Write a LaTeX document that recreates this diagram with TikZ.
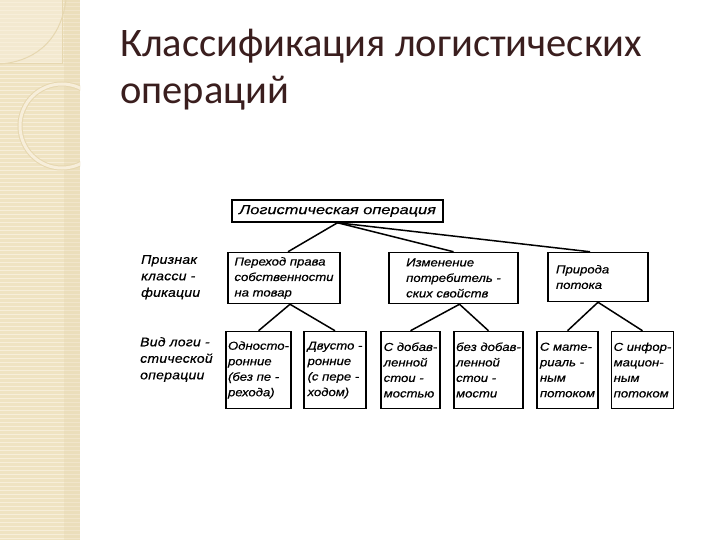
\documentclass[tikz,border=0pt]{standalone}
\usepackage{fontspec}
\setmainfont{Liberation Sans}
\newfontfamily\titlefont{Carlito}
\newfontfamily\hand[FakeStretch=1.14,FakeBold=0.5]{Liberation Sans}
\newfontfamily\handwide[FakeStretch=1.26,FakeBold=0.5]{Liberation Sans}
\newfontfamily\handside[FakeStretch=1.12,LetterSpace=2,FakeBold=0.5]{Liberation Sans}
\definecolor{stripcol}{HTML}{EFE3C2}
\definecolor{stripline}{HTML}{F7EEDA}
\definecolor{stripdark}{HTML}{E6D7B0}
\definecolor{titlecol}{HTML}{3A1E1E}
\tikzset{
  box/.style={draw, line width=1.5pt, inner sep=2pt, align=left, anchor=center,
    font=\hand\itshape\fontsize{11.5}{15.5}\selectfont},
  lab/.style={inner sep=0pt, align=left, anchor=north west,
    font=\handside\itshape\fontsize{12.5}{16.5}\selectfont},
  conn/.style={line width=1.5pt},
  titletext/.style={anchor=base west, inner sep=0pt, text=titlecol,
    font=\titlefont\fontsize{40.5}{47}\selectfont}
}
\begin{document}
\begin{tikzpicture}[x=1pt,y=-1pt]
\useasboundingbox (0,0) rectangle (720,540);
\fill[white] (0,0) rectangle (720,540);
% decorative strip
\fill[stripcol] (0,0) rectangle (80,540);
\foreach \yy in {2,6,...,540} \draw[stripline, line width=0.8pt] (0,\yy) -- (80,\yy);
\fill[stripdark, opacity=0.35] (64,0) rectangle (80,540);
\begin{scope}
\clip (0,0) rectangle (80,540);
\fill[stripline, opacity=0.6] (0,0) rectangle (62,64);
\draw[stripdark, line width=1pt] (0,64) .. controls (30,62) and (60,45) .. (66,0);
\draw[stripdark, line width=1pt] (0,64) -- (62,64) -- (62,0);
\draw[stripdark, line width=5pt] (62,126) circle (42);
\draw[stripline, line width=3pt] (62,126) circle (42);
\end{scope}
% title
\node[titletext] (t1) at (120,57) {Классификация логистических};
\node[titletext] (t2) at (120,104) {операций};
% level 1
\node[box, minimum width=211pt, minimum height=22pt, font=\handwide\itshape\fontsize{13}{15.5}\selectfont] (top) at (337.5,211) {Логистическая операция};
% level 2
\node[box, minimum width=112pt, minimum height=51pt] (a) at (284,278) {Переход права\\собственности\\на товар};
\node[box, minimum width=129pt, minimum height=51pt] (b) at (453.5,278) {Изменение\\потребитель -\\ских свойств};
\node[box, minimum width=100pt, minimum height=49pt, text width=84pt, inner xsep=6pt] (c) at (598,277) {Природа\\потока};
% level 3
\node[box, minimum width=63pt, minimum height=77pt] (o1) at (258.5,370) {Односто-\\ронние\\(без пе -\\рехода)};
\node[box, minimum width=62pt, minimum height=77pt] (o2) at (335,370) {Двусто -\\ронние\\(с пере -\\ходом)};
\node[box, minimum width=59pt, minimum height=77pt] (o3) at (410.5,370) {С добав-\\ленной\\стои -\\мостью};
\node[box, minimum width=61pt, minimum height=77pt] (o4) at (488.5,370) {без добав-\\ленной\\стои -\\мости};
\node[box, minimum width=61pt, minimum height=77pt] (o5) at (567.5,370) {С мате-\\риаль -\\ным\\потоком};
\node[box, minimum width=59pt, minimum height=77pt] (o6) at (642.5,370) {С инфор-\\мацион-\\ным\\потоком};
% side labels
\node[lab] (s1) at (141,255) {Признак\\класси -\\фикации};
\node[lab] (s2) at (140,337) {Вид логи -\\стической\\операции};
% connectors
\draw[conn] (top.south) -- ([xshift=4pt]a.north);
\draw[conn] (top.south) -- (b.north);
\draw[conn] (top.south) -- ([xshift=-8pt]c.north);
\draw[conn] ([xshift=6pt]a.south) -- (o1.north);
\draw[conn] ([xshift=6pt]a.south) -- (o2.north);
\draw[conn] ([xshift=6pt]b.south) -- (o3.north);
\draw[conn] ([xshift=6pt]b.south) -- (o4.north);
\draw[conn] (c.south) -- (o5.north);
\draw[conn] (c.south) -- (o6.north);
\end{tikzpicture}
\end{document}
